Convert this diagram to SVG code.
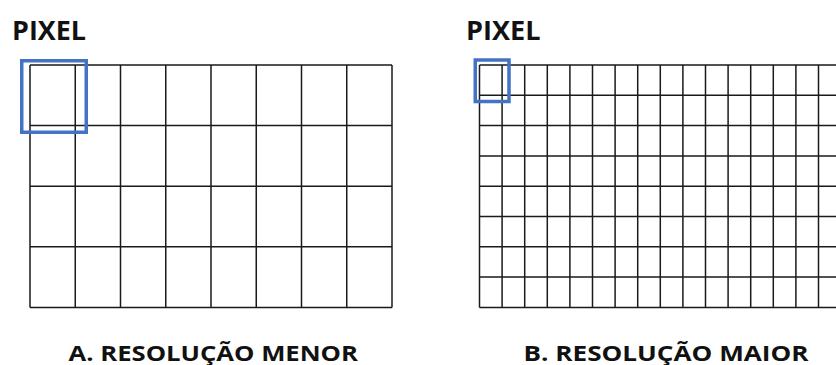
<svg xmlns="http://www.w3.org/2000/svg" width="836" height="365" viewBox="0 0 836 365">
  <style>
    .grid { fill: none; stroke: #1a1a1a; stroke-width: 1.5; }
    .sel { fill: none; stroke: #4472C4; stroke-width: 3.5; }
    .lbl { font-family: "Open Sans", "Liberation Sans", sans-serif; font-weight: bold; fill: #111; }
  </style>
  <rect width="836" height="365" fill="#ffffff"/>
  <g id="panel-a">
    <text class="lbl" x="12" y="39.5" font-size="26" textLength="74" lengthAdjust="spacingAndGlyphs">PIXEL</text>
    <path class="grid" d="M30,65H392M30,125.6H392M30,186.2H392M30,246.8H392M30,307.4H392
      M30,65V307.4M75.25,65V307.4M120.5,65V307.4M165.75,65V307.4M211,65V307.4M256.25,65V307.4M301.5,65V307.4M346.75,65V307.4M392,65V307.4"/>
    <rect class="sel" x="21.75" y="60.75" width="64.5" height="71.5"/>
    <text class="lbl" x="68.5" y="360.5" font-size="22" textLength="289.5" lengthAdjust="spacingAndGlyphs">A. RESOLUÇÃO MENOR</text>
  </g>
  <g id="panel-b">
    <text class="lbl" x="466" y="39.5" font-size="26" textLength="74.5" lengthAdjust="spacingAndGlyphs">PIXEL</text>
    <path class="grid" d="M479.5,65H845M479.5,95.3H845M479.5,125.6H845M479.5,155.9H845M479.5,186.2H845M479.5,216.5H845M479.5,246.8H845M479.5,277.1H845M479.5,307.4H845
      M479.5,65V307.4M502.1,65V307.4M524.7,65V307.4M547.3,65V307.4M569.9,65V307.4M592.5,65V307.4M615.1,65V307.4M637.7,65V307.4M660.3,65V307.4M682.9,65V307.4M705.5,65V307.4M728.1,65V307.4M750.7,65V307.4M773.3,65V307.4M795.9,65V307.4M818.5,65V307.4"/>
    <rect class="sel" x="475.25" y="60" width="33.75" height="41.5"/>
    <text class="lbl" x="523.5" y="360.5" font-size="22" textLength="285" lengthAdjust="spacingAndGlyphs">B. RESOLUÇÃO MAIOR</text>
  </g>
</svg>
